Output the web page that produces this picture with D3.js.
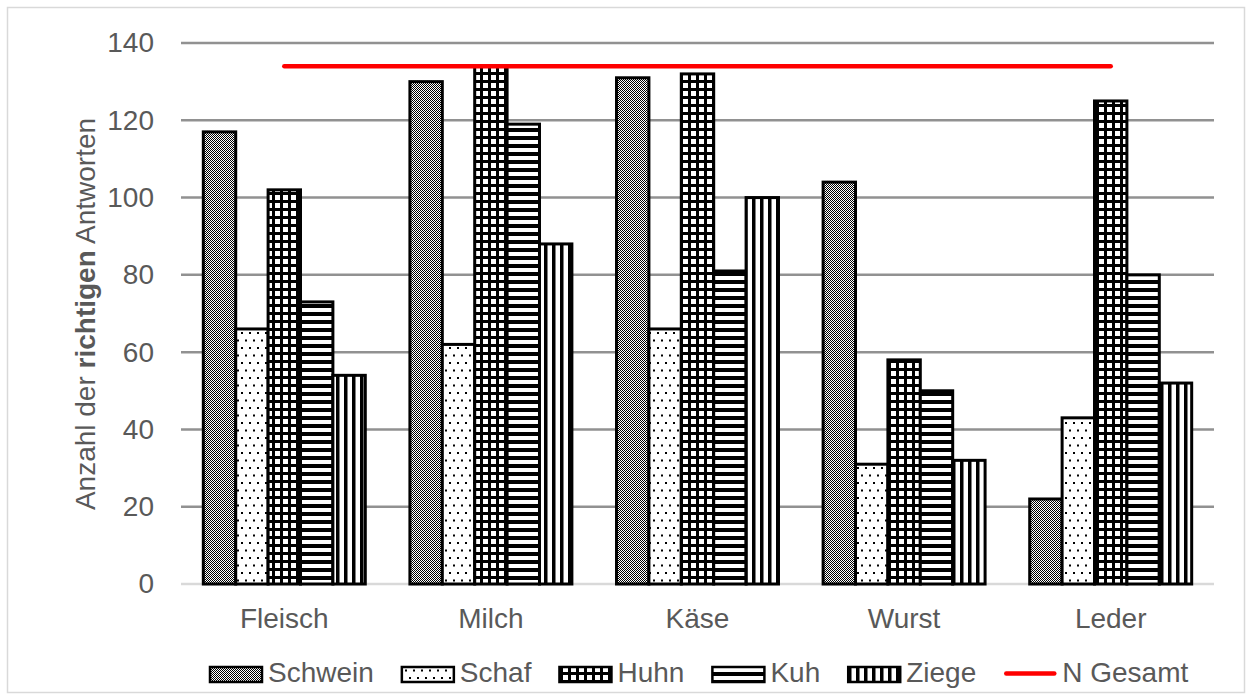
<!DOCTYPE html>
<html>
<head>
<meta charset="utf-8">
<script src="https://cdn.jsdelivr.net/npm/d3@7"></script>
<style>
  html, body { margin: 0; padding: 0; background: #fff; }
  svg { display: block; font-family: "Liberation Sans", Arial, sans-serif; }
</style>
</head>
<body>
<svg id="chart" width="1252" height="700"></svg>
<script>
// Product categories along the x axis
const categories = ["Fleisch", "Milch", "Käse", "Wurst", "Leder"];
// Animal series
const seriesNames = ["Schwein", "Schaf", "Huhn", "Kuh", "Ziege"];
// Correct answers per animal, one value per category
const schwein = [117, 130, 131, 104, 22];
const schaf   = [66, 62, 66, 31, 43];
const huhn    = [102, 134, 132, 58, 125];
const kuh     = [73, 119, 81, 50, 80];
const ziege   = [54, 88, 100, 32, 52];
// Total number of respondents
const nGesamt = [134, 134, 134, 134, 134];
const yTicks = [0, 20, 40, 60, 80, 100, 120, 140];

const seriesValues = [schwein, schaf, huhn, kuh, ziege];

const svg = d3.select("#chart");
const textColor = "#595959";
const fontSize = 28;

// outer frame
svg.append("rect")
  .attr("x", 7.5).attr("y", 7.5)
  .attr("width", 1237).attr("height", 685)
  .attr("fill", "#fff").attr("stroke", "#d9d9d9").attr("stroke-width", 1.5);

// fill patterns
const defs = svg.append("defs");
function pattern(id, w, h) {
  return defs.append("pattern").attr("id", id)
    .attr("patternUnits", "userSpaceOnUse")
    .attr("width", w).attr("height", h);
}
// Schwein: fine checker
{
  const p = pattern("p-schwein", 2, 2);
  p.append("rect").attr("width", 2).attr("height", 2).attr("fill", "#fff");
  p.append("rect").attr("x", 0).attr("y", 0).attr("width", 1).attr("height", 1).attr("fill", "#000");
  p.append("rect").attr("x", 1).attr("y", 1).attr("width", 1).attr("height", 1).attr("fill", "#000");
}
// Schaf: staggered dots
{
  const p = pattern("p-schaf", 8, 15);
  p.append("rect").attr("width", 8).attr("height", 15).attr("fill", "#fff");
  p.append("rect").attr("x", 1).attr("y", 2).attr("width", 2).attr("height", 2).attr("fill", "#000");
  p.append("rect").attr("x", 5).attr("y", 9.5).attr("width", 2).attr("height", 2).attr("fill", "#000");
}
// Huhn: grid
{
  const p = pattern("p-huhn", 8, 8);
  p.append("rect").attr("width", 8).attr("height", 8).attr("fill", "#000");
  p.append("rect").attr("x", 3).attr("y", 3).attr("width", 5).attr("height", 5).attr("fill", "#fff");
}
// Kuh: horizontal stripes
{
  const p = pattern("p-kuh", 8, 8);
  p.append("rect").attr("width", 8).attr("height", 8).attr("fill", "#fff");
  p.append("rect").attr("x", 0).attr("y", 0).attr("width", 8).attr("height", 4).attr("fill", "#000");
}
// Ziege: vertical stripes
{
  const p = pattern("p-ziege", 8, 8);
  p.append("rect").attr("width", 8).attr("height", 8).attr("fill", "#fff");
  p.append("rect").attr("x", 0).attr("y", 0).attr("width", 3.5).attr("height", 8).attr("fill", "#000");
}
const fills = {
  Schwein: "url(#p-schwein)", Schaf: "url(#p-schaf)", Huhn: "url(#p-huhn)",
  Kuh: "url(#p-kuh)", Ziege: "url(#p-ziege)"
};

// scales
const plot = { left: 181, right: 1214, top: 43, bottom: 584 };
const y = d3.scaleLinear().domain([0, 140]).range([plot.bottom, plot.top]);
const x0 = d3.scaleBand().domain(categories).range([plot.left, plot.right]).padding(0);
const groupW = x0.bandwidth() * 0.784;
const x1 = d3.scaleBand().domain(seriesNames)
  .range([(x0.bandwidth() - groupW) / 2, (x0.bandwidth() + groupW) / 2]).padding(0);

// gridlines
svg.append("g").selectAll("line")
  .data(yTicks.filter(t => t > 0))
  .join("line")
  .attr("x1", plot.left).attr("x2", plot.right)
  .attr("y1", d => y(d)).attr("y2", d => y(d))
  .attr("stroke", "#919191").attr("stroke-width", 2.5);

// baseline
svg.append("line")
  .attr("x1", plot.left).attr("x2", plot.right)
  .attr("y1", y(0)).attr("y2", y(0))
  .attr("stroke", "#d9d9d9").attr("stroke-width", 2.5);

// y tick labels
const yAxis = d3.axisLeft(y).tickValues(yTicks).tickSize(0).tickPadding(0);
const gy = svg.append("g").attr("transform", `translate(154,0)`).call(yAxis);
gy.select(".domain").remove();
gy.selectAll("text").attr("fill", textColor).attr("font-size", fontSize)
  .attr("font-family", "Liberation Sans, Arial, sans-serif");

// x category labels
const xAxis = d3.axisBottom(x0).tickSize(0).tickPadding(0);
const gx = svg.append("g").attr("transform", `translate(0,0)`).call(xAxis);
gx.select(".domain").remove();
gx.selectAll("text").attr("fill", textColor).attr("font-size", fontSize)
  .attr("font-family", "Liberation Sans, Arial, sans-serif")
  .attr("y", 628).attr("dy", null);

// bars
const rows = [];
seriesNames.forEach((s, si) => {
  categories.forEach((c, ci) => rows.push({ series: s, cat: c, value: seriesValues[si][ci] }));
});
svg.append("g").selectAll("rect")
  .data(rows)
  .join("rect")
  .attr("x", d => x0(d.cat) + x1(d.series))
  .attr("y", d => y(d.value))
  .attr("width", x1.bandwidth())
  .attr("height", d => y(0) - y(d.value))
  .attr("fill", d => fills[d.series])
  .attr("stroke", "#000").attr("stroke-width", 3);

// N Gesamt line through category centres
const line = d3.line()
  .x((d, i) => x0(categories[i]) + x0.bandwidth() / 2)
  .y(d => y(d));
svg.append("path")
  .datum(nGesamt)
  .attr("d", line)
  .attr("fill", "none").attr("stroke", "#ff0000")
  .attr("stroke-width", 4.5).attr("stroke-linecap", "round");

// y-axis title
const title = svg.append("text")
  .attr("transform", "translate(85,314) rotate(-90)")
  .attr("text-anchor", "middle").attr("dy", "0.35em")
  .attr("fill", textColor).attr("font-size", fontSize);
title.append("tspan").text("Anzahl der ");
title.append("tspan").attr("font-weight", "bold").text("richtigen");
title.append("tspan").text(" Antworten");

// legend
const legendItems = seriesNames.map(s => ({ name: s, type: "bar" }))
  .concat([{ name: "N Gesamt", type: "line" }]);
const legend = svg.append("g");
let lx = 210;
const swW = 52, swH = 15, legY = 667, textGap = 6, itemGap = 28;
legendItems.forEach(item => {
  const g = legend.append("g");
  if (item.type === "bar") {
    g.append("rect").attr("x", lx).attr("y", legY)
      .attr("width", swW).attr("height", swH)
      .attr("fill", fills[item.name]).attr("stroke", "#000").attr("stroke-width", 2.5);
  } else {
    g.append("line").attr("x1", lx + 2).attr("x2", lx + swW - 2)
      .attr("y1", legY + swH / 2 - 1).attr("y2", legY + swH / 2 - 1)
      .attr("stroke", "#ff0000").attr("stroke-width", 4.5).attr("stroke-linecap", "round");
  }
  const t = g.append("text").attr("x", lx + swW + textGap).attr("y", 682)
    .attr("fill", textColor).attr("font-size", fontSize).text(item.name);
  lx += swW + textGap + t.node().getComputedTextLength() + itemGap;
});
</script>
</body>
</html>
